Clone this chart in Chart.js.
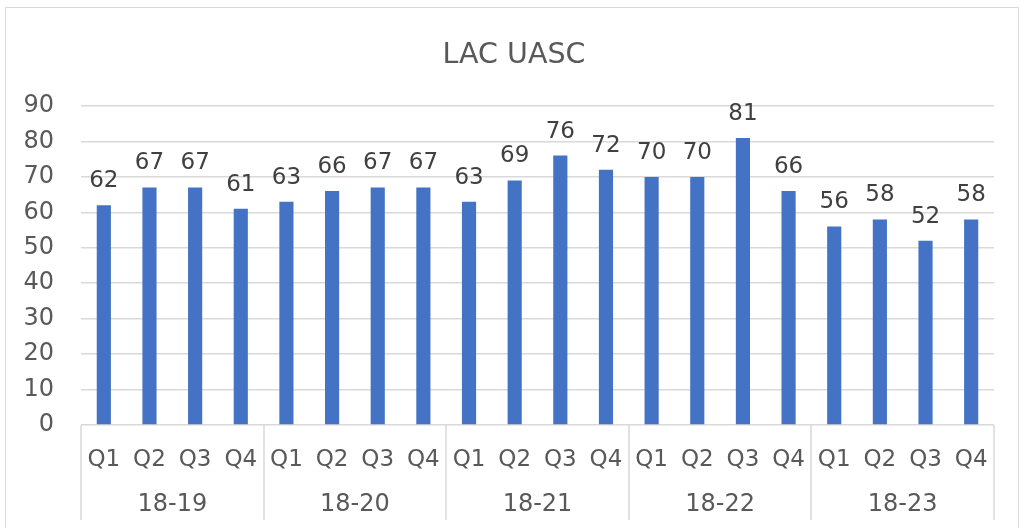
<!DOCTYPE html>
<html><head><meta charset="utf-8">
<script src="https://cdn.jsdelivr.net/npm/chart.js@4/dist/chart.umd.min.js"></script>
<style>
html,body{margin:0;padding:0;background:#fff;}
#wrap{position:relative;width:1021px;height:528px;overflow:hidden;}
#frame{position:absolute;left:5px;top:7px;width:1014px;height:540px;border:1px solid #d9d9d9;box-sizing:border-box;}
canvas{position:absolute;left:0;top:0;}
</style></head><body>
<div id="wrap"><div id="frame"></div><canvas id="c" width="1021" height="528"></canvas></div>
<script>
const chartTitle = "LAC UASC";
const groups = ["18-19","18-20","18-21","18-22","18-23"];
const quarters = ["Q1","Q2","Q3","Q4"];
const values = [62,67,67,61, 63,66,67,67, 63,69,76,72, 70,70,81,66, 56,58,52,58];
const yMin = 0, yMax = 90, yStep = 10;

const categories = [];
groups.forEach(g => quarters.forEach(q => categories.push(q)));

const FONT = "'DejaVu Sans', Verdana, sans-serif";
Chart.defaults.font.family = FONT;

const groupAxis = {
  id: 'groupAxis',
  afterDraw(chart) {
    const ctx = chart.ctx, x = chart.scales.x, area = chart.chartArea;
    const n = quarters.length;
    const half = (x.getPixelForValue(1) - x.getPixelForValue(0)) / 2;
    ctx.save();
    ctx.strokeStyle = '#d9d9d9';
    ctx.lineWidth = 1.5;
    for (let g = 0; g <= groups.length; g++) {
      const px = g < groups.length ? x.getPixelForValue(g * n) - half
                                   : x.getPixelForValue(groups.length * n - 1) + half;
      ctx.beginPath();
      ctx.moveTo(Math.round(px), area.bottom);
      ctx.lineTo(Math.round(px), area.bottom + 95);
      ctx.stroke();
    }
    ctx.fillStyle = '#595959';
    ctx.font = '24px ' + FONT;
    ctx.textAlign = 'center';
    ctx.textBaseline = 'middle';
    groups.forEach((g, i) => {
      const c = (x.getPixelForValue(i * n) + x.getPixelForValue(i * n + n - 1)) / 2;
      ctx.fillText(g, c, area.bottom + 80);
    });
    const meta = chart.getDatasetMeta(0);
    ctx.fillStyle = '#404040';
    ctx.font = '23px ' + FONT;
    meta.data.forEach((bar, i) => ctx.fillText(String(values[i]), bar.x, bar.y - 24));
    ctx.restore();
  }
};

new Chart(document.getElementById('c'), {
  type: 'bar',
  data: {
    labels: categories,
    datasets: [{ data: values, backgroundColor: '#4472C4', barPercentage: 0.31, categoryPercentage: 1 }]
  },
  options: {
    responsive: false,
    animation: false,
    devicePixelRatio: 1,
    layout: { padding: { left: 7, right: 0, top: 0, bottom: 0 } },
    plugins: {
      legend: { display: false },
      tooltip: { enabled: false },
      title: {
        display: true, text: chartTitle, color: '#595959',
        font: { size: 28.5, weight: 'normal', family: FONT },
        padding: { top: 38, bottom: 33.8 }
      }
    },
    scales: {
      x: {
        grid: { display: false },
        border: { display: false },
        ticks: { color: '#595959', font: { size: 23 }, padding: 13, maxRotation: 0, autoSkip: false },
        afterFit(s) { s.height = 103; }
      },
      y: {
        min: yMin, max: yMax,
        grid: { color: '#d9d9d9', lineWidth: 1.5, drawTicks: false },
        border: { display: false },
        ticks: { stepSize: yStep, color: '#595959', font: { size: 24 }, padding: 27 },
        afterFit(s) { s.width = 74; }
      },
      y2: {
        position: 'right', min: yMin, max: yMax,
        grid: { display: false },
        border: { display: false },
        ticks: { display: false },
        afterFit(s) { s.width = 27; }
      }
    }
  },
  plugins: [groupAxis]
});
</script>
</body></html>
